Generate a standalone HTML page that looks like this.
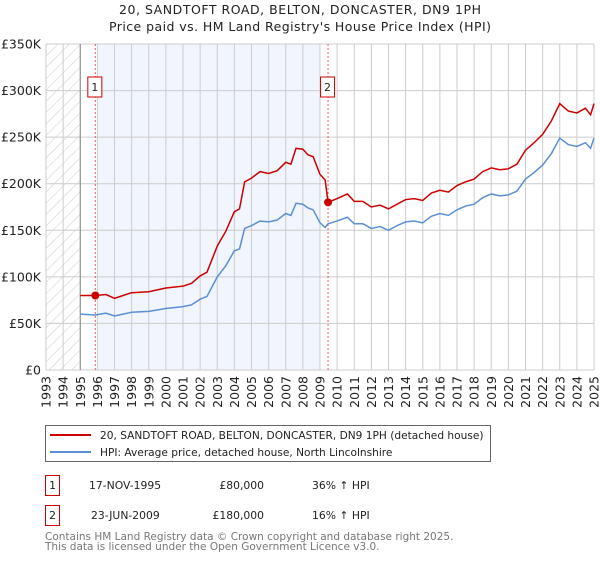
<!DOCTYPE html>
<html><head><meta charset="utf-8"><style>
body{margin:0;background:#fff;width:600px;height:560px;overflow:hidden;font-family:"DejaVu Sans","Liberation Sans",sans-serif;}
</style></head><body>
<svg id="chart" width="600" height="560" xmlns="http://www.w3.org/2000/svg" font-family="DejaVu Sans, Liberation Sans, sans-serif">
<defs><pattern id="hatch" width="8" height="8" patternUnits="userSpaceOnUse" patternTransform="rotate(45)"><line x1="0" y1="0" x2="0" y2="8" stroke="#ccc" stroke-width="1"/></pattern></defs>
<text x="300" y="14" font-size="12.5" text-anchor="middle" fill="#222" textLength="362">20, SANDTOFT ROAD, BELTON, DONCASTER, DN9 1PH</text>
<text x="300" y="31" font-size="12.5" text-anchor="middle" fill="#222" textLength="382">Price paid vs. HM Land Registry's House Price Index (HPI)</text>
<g id="plot"></g>
<g>
<rect x="45.5" y="425.5" width="445" height="36" fill="#fff" stroke="#666"/>
<line x1="50" y1="435" x2="91" y2="435" stroke="#cc0000" stroke-width="2"/>
<text x="100" y="439" font-size="10.6" fill="#222">20, SANDTOFT ROAD, BELTON, DONCASTER, DN9 1PH (detached house)</text>
<line x1="50" y1="452" x2="91" y2="452" stroke="#5b8fd4" stroke-width="2"/>
<text x="100" y="456" font-size="10.6" fill="#222">HPI: Average price, detached house, North Lincolnshire</text>
</g>
<g font-size="10.8" fill="#222">
<rect x="45.5" y="475.5" width="14" height="20" fill="#fff" stroke="#cc0000"/>
<text x="52.5" y="489" text-anchor="middle">1</text>
<text x="89" y="489">17-NOV-1995</text>
<text x="264" y="489" text-anchor="end">£80,000</text>
<text x="312" y="489">36% ↑ HPI</text>
</g>
<g font-size="10.8" fill="#222">
<rect x="45.5" y="505.5" width="14" height="20" fill="#fff" stroke="#cc0000"/>
<text x="52.5" y="519" text-anchor="middle">2</text>
<text x="91" y="519">23-JUN-2009</text>
<text x="264" y="519" text-anchor="end">£180,000</text>
<text x="312" y="519">16% ↑ HPI</text>
</g>
<text x="45" y="540" font-size="10.5" fill="#777">Contains HM Land Registry data © Crown copyright and database right 2025.</text>
<text x="45" y="550" font-size="10.5" fill="#777">This data is licensed under the Open Government Licence v3.0.</text>
</svg>
<script>
const years=[1995,1995.88,1996.5,1997,1997.5,1998,1999,2000,2001,2001.5,2002,2002.4,2003,2003.5,2004,2004.3,2004.6,2005,2005.5,2006,2006.5,2007,2007.3,2007.6,2008,2008.3,2008.6,2009,2009.3,2009.47,2010,2010.6,2011,2011.5,2012,2012.5,2013,2013.5,2014,2014.5,2015,2015.5,2016,2016.5,2017,2017.5,2018,2018.5,2019,2019.5,2020,2020.5,2021,2021.5,2022,2022.5,2023,2023.5,2024,2024.5,2024.8,2025];
const hpiValues=[60,59,61,58,60,62,63,66,68,70,76,79,100,112,128,130,152,155,160,159,161,168,166,179,178,174,172,158,153,157,160,164,157,157,152,154,150,155,159,160,158,165,168,166,172,176,178,185,189,187,188,192,205,212,220,232,249,242,240,244,238,249];
const priceValues=[80,80,81,77,80,83,84,88,90,93,101,105,133,149,170,173,202,206,213,211,214,223,221,238,237,231,229,210,204,180,184,189,181,181,175,177,173,178,183,184,182,190,193,191,198,202,205,213,217,215,216,221,236,244,253,267,286,278,276,281,274,286];
const yTicks=[0,50,100,150,200,250,300,350];
const yTickLabels=["£0","£50K","£100K","£150K","£200K","£250K","£300K","£350K"];
const xTicks=[1993,1994,1995,1996,1997,1998,1999,2000,2001,2002,2003,2004,2005,2006,2007,2008,2009,2010,2011,2012,2013,2014,2015,2016,2017,2018,2019,2020,2021,2022,2023,2024,2025];
const saleYears=[1995.88,2009.47];
const saleValues=[80,180];
const saleLabels=["1","2"];
const X0=46,X1=594,Y0=370,Y1=44;
const x=v=>X0+(v-1993)/(2025-1993)*(X1-X0);
const y=v=>Y0-(v/350)*(Y0-Y1);
const NS="http://www.w3.org/2000/svg";
const g=document.getElementById('plot');
function mk(t,a){const e=document.createElementNS(NS,t);for(const k in a)e.setAttribute(k,a[k]);g.appendChild(e);return e;}
let e;
e=mk('rect',{x:x(1996),y:Y1,width:x(2009)-x(1996),height:Y0-Y1,fill:'#eef3fc',opacity:0.8});


e=mk('rect',{x:X0,y:Y1,width:x(1995)-X0,height:Y0-Y1,fill:'url(#hatch)'});


xTicks.forEach(v=>{
 e=mk('line',{x1:x(v),x2:x(v),y1:Y1,y2:Y0,stroke:'#ccc','stroke-width':1});
 
 
 e=mk('text',{x:0,y:0,'font-size':12.5,fill:'#222','text-anchor':'end',transform:`translate(${x(v)+4.5},${Y0+6}) rotate(-90)`});
 e.textContent=v;
 
 
});
yTicks.forEach((v,i)=>{
 e=mk('line',{x1:X0,x2:X1,y1:y(v),y2:y(v),stroke:'#ccc','stroke-width':1});
 
 
 e=mk('text',{x:X0-5,y:y(v)+4.5,'font-size':12.5,fill:'#222','text-anchor':'end'});
 e.textContent=yTickLabels[i];
 
 
});
e=mk('line',{x1:x(1995),x2:x(1995),y1:Y1,y2:Y0,stroke:'#888','stroke-width':1});


saleYears.forEach((v,i)=>{
 e=mk('line',{x1:x(v),x2:x(v),y1:Y1,y2:Y0,stroke:'#e55','stroke-width':1,'stroke-dasharray':'2,2'});
 
 
 e=mk('rect',{x:x(v)-7.5,y:77,width:14,height:20,fill:'#fff',stroke:'#cc0000'});
 
 
 e=mk('text',{x:x(v)-0.5,y:91,'font-size':11,'text-anchor':'middle',fill:'#222'});
 e.textContent=saleLabels[i];
 
 
});
e=mk('polyline',{points:years.map((t,i)=>x(t)+','+y(hpiValues[i])).join(' '),fill:'none',stroke:'#5b8fd4','stroke-width':1.5});


e=mk('polyline',{points:years.map((t,i)=>x(t)+','+y(priceValues[i])).join(' '),fill:'none',stroke:'#cc0000','stroke-width':1.5});


saleYears.forEach((v,i)=>{
 e=mk('circle',{cx:x(v),cy:y(saleValues[i]),r:4,fill:'#cc0000'});
 
 
});
</script>
</body></html>
